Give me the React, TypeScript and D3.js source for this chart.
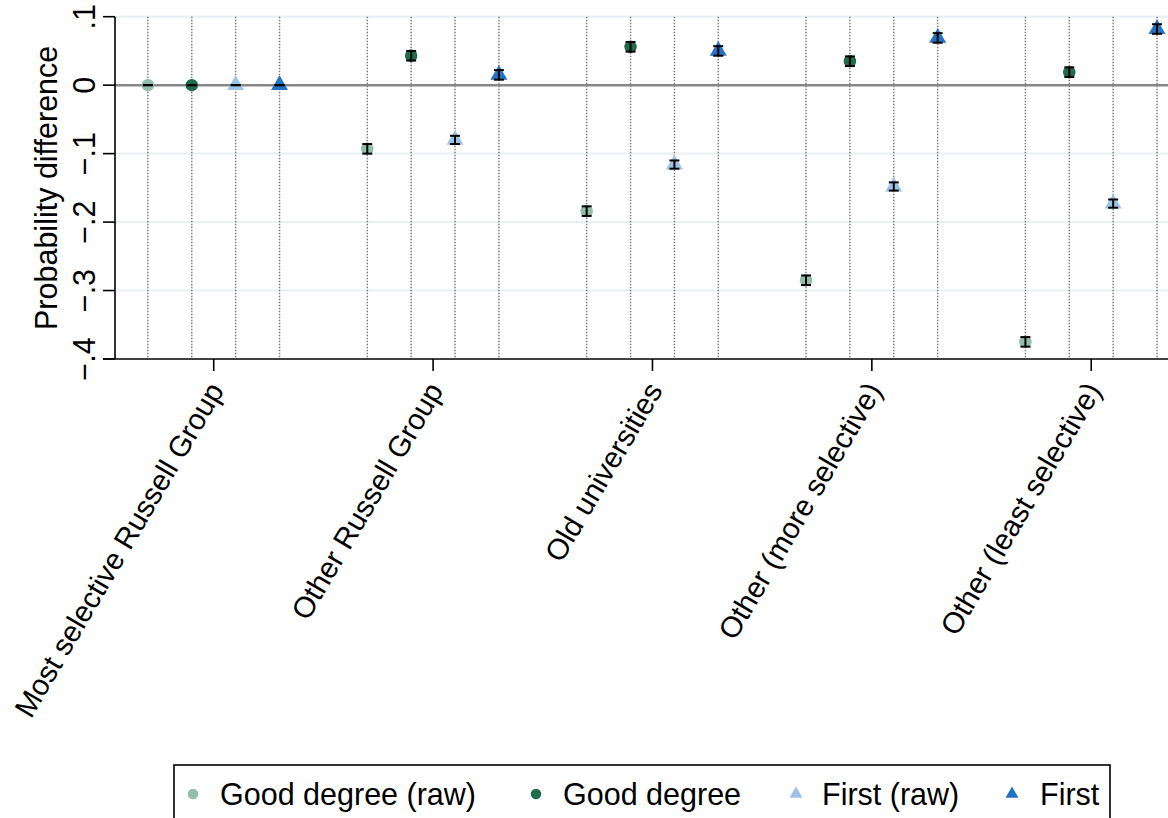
import * as React from 'react';
import * as d3 from 'd3';

// university groups (x axis)
const categories = [
  'Most selective Russell Group',
  'Other Russell Group',
  'Old universities',
  'Other (more selective)',
  'Other (least selective)',
];

// point estimates per group
const goodRaw = [0, -0.093, -0.184, -0.285, -0.375];
const good = [0, 0.043, 0.056, 0.035, 0.019];
const firstRaw = [0, -0.08, -0.116, -0.148, -0.173];
const first = [0, 0.015, 0.05, 0.069, 0.082];

// half-width of the confidence intervals
const goodRawCI = [0, 0.007, 0.007, 0.007, 0.007];
const goodCI = [0, 0.007, 0.007, 0.007, 0.007];
const firstRawCI = [0, 0.006, 0.006, 0.006, 0.006];
const firstCI = [0, 0.007, 0.007, 0.007, 0.007];

const yTicks = [0.1, 0, -0.1, -0.2, -0.3, -0.4];

const series = [
  { name: 'Good degree (raw)', values: goodRaw, ci: goodRawCI, shape: 'circle', color: '#90bea8' },
  { name: 'Good degree', values: good, ci: goodCI, shape: 'circle', color: '#1f6b4c' },
  { name: 'First (raw)', values: firstRaw, ci: firstRawCI, shape: 'triangle', color: '#9cc2e6' },
  { name: 'First', values: first, ci: firstCI, shape: 'triangle', color: '#2372c4' },
];

const W = 1168;
const H = 818;
const margin = { top: 16.7, left: 115, right: 0, bottom: 459 };
const font = '"Liberation Sans", Arial, Helvetica, sans-serif';
const fs = 30.5;

const fmt = (v: number) => (v === 0 ? '0' : d3.format('.1f')(v).replace('0.', '.'));

const Marker: React.FC<{ shape: string; color: string; x: number; y: number; size: number }> = ({
  shape,
  color,
  x,
  y,
  size,
}) => {
  if (shape === 'circle') return <circle cx={x} cy={y} r={size / 2} fill={color} />;
  // size = side length of the triangle
  const sym = d3.symbol(d3.symbolTriangle, (size * size * Math.sqrt(3)) / 4)();
  return <path d={sym ?? ''} transform={`translate(${x},${y})`} fill={color} />;
};

const App: React.FC = () => {
  const x = d3.scaleLinear([-0.75, 23.25], [margin.left, W - margin.right]);
  const y = d3.scaleLinear([-0.4, 0.1], [H - margin.bottom, margin.top]);
  const pos = (g: number, s: number) => x(g * 5 + s);
  const yBottom = y(-0.4);

  const legendItems = [
    { mx: 193, tx: 220 },
    { mx: 536, tx: 563 },
    { mx: 796, tx: 822 },
    { mx: 1012, tx: 1040 },
  ];

  return (
    <svg
      width={W}
      height={H}
      viewBox={`0 0 ${W} ${H}`}
      style={{ position: 'absolute', left: 0, top: 0, background: '#fff' }}
      fontFamily={font}
    >
      {/* grid lines */}
      {yTicks
        .filter((t) => t !== 0 && t !== -0.4)
        .map((t) => (
          <line key={t} x1={margin.left} x2={W} y1={y(t)} y2={y(t)} stroke="#e8f0f3" strokeWidth={2} />
        ))}

      {/* dotted guides at every series position */}
      {categories.map((_, g) =>
        series.map((_, s) => (
          <line
            key={`${g}-${s}`}
            x1={pos(g, s)}
            x2={pos(g, s)}
            y1={margin.top}
            y2={yBottom}
            stroke="#7d7d7d"
            strokeWidth={1.5}
            strokeDasharray="1.5,1.5"
          />
        ))
      )}

      {/* zero line */}
      <line x1={margin.left} x2={W} y1={y(0)} y2={y(0)} stroke="#888" strokeWidth={2.5} />

      {/* axes */}
      <line x1={margin.left} x2={margin.left} y1={margin.top} y2={yBottom} stroke="#000" strokeWidth={1.6} />
      <line x1={margin.left - 12} x2={W} y1={yBottom} y2={yBottom} stroke="#000" strokeWidth={1.6} />
      {yTicks.map((t) => (
        <g key={t}>
          <line x1={margin.left - 12} x2={margin.left} y1={y(t)} y2={y(t)} stroke="#000" strokeWidth={1.6} />
          <text
            transform={`translate(84,${y(t)}) rotate(-90)`}
            textAnchor="middle"
            dominantBaseline="central"
            fontSize={fs}
          >
            {fmt(t)}
          </text>
        </g>
      ))}
      <text
        transform={`translate(46,${(margin.top + yBottom) / 2}) rotate(-90)`}
        textAnchor="middle"
        dominantBaseline="central"
        fontSize={fs}
      >
        Probability difference
      </text>

      {categories.map((c, g) => {
        const cx = x(g * 5 + 1.5);
        return (
          <g key={c}>
            <line x1={cx} x2={cx} y1={yBottom} y2={yBottom + 12} stroke="#000" strokeWidth={1.6} />
            <text
              transform={`translate(${cx + 2},${yBottom + 26}) rotate(-59.5)`}
              textAnchor="end"
              dominantBaseline="central"
              fontSize={29.5}
            >
              {c}
            </text>
          </g>
        );
      })}

      {/* markers and error bars */}
      {series.map((s, si) =>
        s.values.map((v, g) => {
          const px = pos(g, si);
          const lo = y(v - s.ci[g]);
          const hi = y(v + s.ci[g]);
          return (
            <g key={`${si}-${g}`}>
              <Marker shape={s.shape} color={s.color} x={px} y={y(v)} size={s.shape === 'circle' ? 12.5 : 17} />
              <line x1={px} x2={px} y1={lo} y2={hi} stroke="#000" strokeWidth={2} />
              <line x1={px - 5} x2={px + 5} y1={lo} y2={lo} stroke="#000" strokeWidth={2} />
              <line x1={px - 5} x2={px + 5} y1={hi} y2={hi} stroke="#000" strokeWidth={2} />
            </g>
          );
        })
      )}

      {/* legend */}
      <rect x={174} y={765} width={936} height={70} fill="#fff" stroke="#000" strokeWidth={1.6} />
      {series.map((s, i) => (
        <g key={s.name}>
          <Marker shape={s.shape} color={s.color} x={legendItems[i].mx} y={794} size={s.shape === 'circle' ? 10.5 : 13} />
          <text x={legendItems[i].tx} y={794} dominantBaseline="central" fontSize={fs}>
            {s.name}
          </text>
        </g>
      ))}
    </svg>
  );
};

export default App;
